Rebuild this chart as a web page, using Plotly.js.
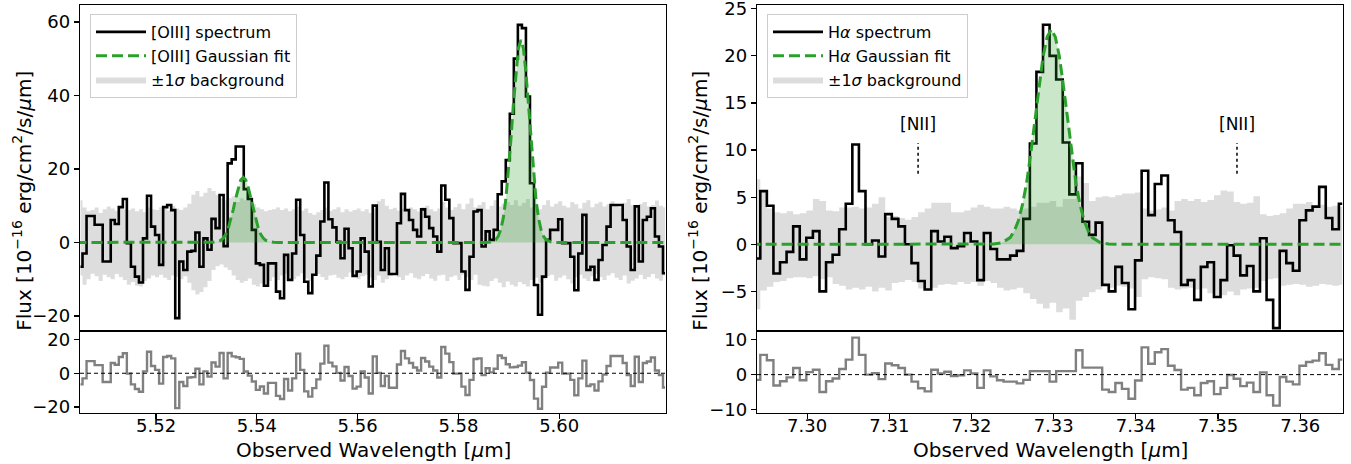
<!DOCTYPE html>
<html>
<head>
<meta charset="utf-8">
<script src="https://cdn.plot.ly/plotly-3.0.1.min.js"></script>
<style>html,body{margin:0;padding:0;background:#fff;}#chart{width:1351px;height:464px;}</style>
</head>
<body>
<div id="chart"></div>
<script>
// ---------------- [OIII] panel data ----------------
const lamL = [
5.5050,5.5058,5.5066,5.5074,5.5082,5.5090,5.5098,5.5106,5.5114,5.5122,
5.5130,5.5138,5.5146,5.5154,5.5162,5.5170,5.5178,5.5186,5.5194,5.5202,
5.5210,5.5218,5.5226,5.5234,5.5242,5.5250,5.5258,5.5266,5.5274,5.5282,
5.5290,5.5298,5.5306,5.5314,5.5322,5.5330,5.5338,5.5346,5.5354,5.5362,
5.5370,5.5378,5.5386,5.5394,5.5402,5.5410,5.5418,5.5426,5.5434,5.5442,
5.5450,5.5458,5.5466,5.5474,5.5482,5.5490,5.5498,5.5506,5.5514,5.5522,
5.5530,5.5538,5.5546,5.5554,5.5562,5.5570,5.5578,5.5586,5.5594,5.5602,
5.5610,5.5618,5.5626,5.5634,5.5642,5.5650,5.5658,5.5666,5.5674,5.5682,
5.5690,5.5698,5.5706,5.5714,5.5722,5.5730,5.5738,5.5746,5.5754,5.5762,
5.5770,5.5778,5.5786,5.5794,5.5802,5.5810,5.5818,5.5826,5.5834,5.5842,
5.5850,5.5858,5.5866,5.5874,5.5882,5.5890,5.5898,5.5906,5.5914,5.5922,
5.5930,5.5938,5.5946,5.5954,5.5962,5.5970,5.5978,5.5986,5.5994,5.6002,
5.6010,5.6018,5.6026,5.6034,5.6042,5.6050,5.6058,5.6066,5.6074,5.6082,
5.6090,5.6098,5.6106,5.6114,5.6122,5.6130,5.6138,5.6146,5.6154,5.6162,
5.6170,5.6178,5.6186,5.6194,5.6202,5.6210];
const fluxL = [
-6.6,-3.0,7.2,7.2,4.8,4.8,-5.2,-5.2,6.1,5.0,
9.6,11.8,-0.2,-6.6,-9.3,-10.9,1.1,12.7,4.3,2.0,
-6.1,9.6,10.2,8.8,-20.6,-5.2,-7.5,-2.5,-2.3,2.7,
-6.6,1.1,-2.0,6.4,3.9,12.9,-1.0,21.5,22.6,26.1,
26.1,14.5,11.8,3.4,-5.7,-6.1,-11.8,-5.7,-5.7,-13.4,
-15.2,-3.4,-10.2,-3.0,11.6,2.0,-10.7,-13.8,-8.8,-3.6,
5.7,16.3,6.3,4.1,0.2,-4.3,3.7,-1.6,-9.1,-7.9,
1.1,-2.5,-12.0,10.0,0.2,-7.5,-1.6,-8.6,-8.6,5.2,
13.2,8.8,6.1,3.4,1.6,9.0,7.0,3.9,1.6,-2.5,
15.5,11.6,6.6,-0.2,-0.2,-7.9,-12.9,-3.9,8.4,8.8,
-1.1,3.0,0.7,3.4,13.1,16.6,22.4,35.0,50.0,59.2,
58.3,39.7,16.1,-11.6,-19.7,-9.3,0.7,3.4,3.4,6.3,
-0.2,-0.2,-3.9,-13.0,-3.0,7.5,-7.5,-6.6,-10.2,-4.8,
-0.7,4.3,10.2,10.2,10.2,6.1,-1.1,-7.5,9.8,-5.2,
6.1,7.0,9.3,1.6,-1.1,-8.4];
const bandHiL = [
11.5,9.5,8.5,8.8,9.5,8.0,9.0,9.8,9.2,8.6,9.5,9.0,
8.8,9.2,8.5,9.0,8.2,9.5,9.0,8.8,9.6,9.2,8.6,10.0,
9.2,8.8,9.5,10.5,13.0,14.0,12.5,13.5,14.8,14.0,13.0,12.0,
11.5,12.0,12.5,11.0,12.0,11.5,12.5,10.5,9.5,9.0,8.5,8.8,
9.0,9.5,8.8,9.2,8.5,9.0,9.8,8.6,9.2,8.0,7.5,8.2,
8.8,9.5,8.6,9.0,9.6,8.2,9.0,8.4,8.8,9.2,8.5,9.0,
8.0,9.2,11.2,11.8,10.0,9.0,9.4,8.6,9.2,8.8,9.5,9.0,
8.4,9.6,10.0,9.0,8.5,9.2,11.0,9.5,8.8,9.6,10.5,9.0,
10.5,12.0,9.5,10.2,11.0,9.0,10.0,11.5,9.8,10.5,11.0,10.2,
11.5,10.0,10.8,11.8,9.5,10.5,9.0,10.2,11.5,9.8,10.5,11.2,
10.0,9.5,11.0,10.4,9.2,10.8,11.5,9.6,10.5,11.0,9.8,10.4,
11.2,10.0,9.5,10.8,11.8,10.2,9.6,10.5,11.0,9.8,10.2,11.4,10.0,9.6];
const bandLoL = [
-9.0,-11.5,-10.0,-8.5,-9.2,-10.5,-8.8,-9.5,-10.0,-8.6,-9.4,-10.2,
-11.5,-10.8,-11.8,-12.0,-10.5,-9.8,-9.0,-9.5,-8.8,-9.6,-10.2,-9.0,
-9.4,-10.0,-9.2,-11.0,-13.0,-14.2,-13.5,-12.2,-10.5,-7.5,-6.5,-6.0,
-6.8,-7.5,-9.0,-10.2,-11.0,-10.5,-9.8,-11.5,-12.0,-11.2,-12.0,-10.5,
-9.5,-10.2,-9.0,-8.5,-9.6,-10.0,-9.2,-8.4,-9.8,-10.5,-9.0,-8.6,
-9.4,-10.2,-9.0,-8.8,-9.6,-10.0,-9.4,-8.2,-9.0,-10.0,-9.2,-8.8,
-9.6,-10.2,-9.0,-11.0,-10.0,-9.2,-8.8,-9.5,-10.2,-9.0,-8.4,-9.6,
-10.0,-9.2,-8.6,-9.8,-10.4,-9.0,-8.8,-10.5,-9.4,-9.0,-10.2,-8.8,
-9.5,-10.2,-8.8,-11.5,-11.8,-12.0,-10.5,-9.8,-11.0,-12.2,-10.6,-11.5,
-12.0,-10.8,-11.4,-12.0,-10.2,-9.6,-11.0,-10.0,-9.2,-8.8,-10.4,-9.6,
-9.0,-10.0,-11.2,-9.5,-8.8,-9.8,-10.5,-9.2,-8.6,-9.4,-10.2,-9.0,
-8.4,-9.6,-10.2,-9.0,-11.2,-10.4,-9.8,-8.8,-10.0,-9.4,-8.6,-9.8,-10.4,-9.0];
const resL = [
-6.6,-3.0,7.2,7.2,4.8,4.8,-5.2,-5.2,6.1,5.0,
9.6,11.8,-0.2,-6.6,-9.3,-10.9,1.1,12.7,4.3,2.0,
-6.1,9.6,10.2,8.8,-20.6,-5.2,-7.5,-2.5,-2.3,2.7,
-6.6,1.1,-2.0,6.4,3.9,12.0,-3.0,12.0,10.0,9.5,
8.5,1.0,-1.4,-4.9,-9.8,-7.8,-12.0,-5.7,-5.7,-13.4,
-15.2,-3.4,-10.2,-3.0,11.6,2.0,-10.7,-13.8,-8.8,-3.6,
5.7,16.3,6.3,4.1,0.2,-4.3,3.7,-1.6,-9.1,-7.9,
1.1,-2.5,-12.0,10.0,0.2,-7.5,-1.6,-8.6,-8.6,5.2,
13.2,8.8,6.1,3.4,1.6,9.0,7.0,3.9,1.6,-2.5,
15.5,11.6,6.6,-0.2,-0.2,-7.9,-12.9,-3.9,8.4,8.8,
-1.1,3.0,0.5,2.7,10.5,9.0,5.3,3.5,3.7,4.5,
6.5,0.4,-4.0,-15.0,-21.0,-8.0,0.3,3.4,3.4,6.3,
-0.2,-0.2,-3.9,-13.0,-3.0,7.5,-7.5,-6.6,-10.2,-4.8,
-0.7,4.3,10.2,10.2,10.2,6.1,-1.1,-7.5,9.8,-5.2,
6.1,7.0,9.3,1.6,-1.1,-8.4];
const fitLamL = [5.5040,5.5303,5.5313,5.5323,5.5328,5.5333,5.5338,5.5343,5.5348,5.5353,5.5358,5.5363,5.5368,5.5373,
5.5378,5.5383,5.5388,5.5393,5.5398,5.5403,5.5408,5.5413,5.5418,5.5423,5.5433,5.5443,
5.5854,5.5864,5.5874,5.5879,5.5884,5.5889,5.5894,5.5899,5.5904,5.5909,5.5914,5.5919,5.5924,
5.5929,5.5934,5.5939,5.5944,5.5949,5.5954,5.5959,5.5964,5.5969,5.5974,5.5984,5.5994,5.6220];
const fitL = [0,0,0.04,0.23,0.53,1.11,2.12,3.73,6.0,8.86,12.0,14.9,17.0,17.7,
17.0,14.9,12.0,8.86,6.0,3.73,2.12,1.11,0.53,0.23,0.04,0,
0,0.11,0.73,1.66,3.46,6.6,11.6,18.7,27.6,37.4,46.3,52.8,55.1,
52.8,46.3,37.4,27.6,18.7,11.6,6.6,3.46,1.66,0.73,0.11,0,0];

// ---------------- H-alpha panel data ----------------
const lamR = [
7.2939,7.2947,7.2955,7.2963,7.2971,7.2979,7.2987,7.2995,7.3003,7.3011,
7.3019,7.3027,7.3035,7.3043,7.3051,7.3059,7.3067,7.3075,7.3083,7.3091,
7.3099,7.3107,7.3115,7.3123,7.3131,7.3139,7.3147,7.3155,7.3163,7.3171,
7.3179,7.3187,7.3195,7.3203,7.3211,7.3219,7.3227,7.3235,7.3243,7.3251,
7.3259,7.3267,7.3275,7.3283,7.3291,7.3299,7.3307,7.3315,7.3323,7.3331,
7.3339,7.3347,7.3355,7.3363,7.3371,7.3379,7.3387,7.3395,7.3403,7.3411,
7.3419,7.3427,7.3435,7.3443,7.3451,7.3459,7.3467,7.3475,7.3483,7.3491,
7.3499,7.3507,7.3515,7.3523,7.3531,7.3539,7.3547,7.3555,7.3563,7.3571,
7.3579,7.3587,7.3595,7.3603,7.3611,7.3619,7.3627,7.3635,7.3643,7.3651];
const fluxR = [
-1.5,5.65,4.1,-3.1,-1.9,-0.8,1.9,-1.6,0.7,1.4,
-5.0,-1.9,-1.1,1.6,4.3,10.6,5.65,0.0,0.4,-1.3,
3.2,2.7,1.9,0.0,-2.0,-3.9,-4.8,1.4,0.3,0.8,
-0.4,-0.2,1.2,0.3,-3.8,1.2,-0.5,-1.6,-1.6,-1.2,
-0.7,2.7,10.7,18.3,23.3,20.0,17.5,10.8,5.3,8.6,
2.4,1.0,2.3,-4.3,-5.0,-2.4,-4.1,-6.9,-1.7,7.8,
3.1,6.4,7.3,2.55,1.3,-4.3,-3.8,-5.9,-2.4,-1.9,
-5.6,-3.8,-0.1,-1.2,-3.3,-2.3,-5.0,0.65,-5.9,-8.9,
-0.7,-2.0,-2.8,2.55,3.6,4.0,6.1,2.8,1.6,4.3];
const bandHiR = [
6.9,5.6,3.8,3.4,3.3,3.5,3.2,3.3,3.6,4.8,
4.6,3.6,3.5,3.9,3.9,4.0,3.8,3.9,4.3,5.0,
2.9,3.0,2.8,2.6,2.9,3.4,3.8,4.4,4.4,4.4,
3.4,3.4,3.6,3.9,4.2,4.0,3.8,3.8,4.0,3.8,
3.6,3.8,4.0,4.4,4.4,4.6,4.0,4.8,4.8,7.2,
6.5,4.6,5.0,5.1,5.0,5.2,5.4,5.4,5.5,3.8,
3.6,3.7,3.9,3.6,4.6,4.8,4.6,4.8,4.5,4.7,
5.2,5.7,5.6,4.5,4.3,4.4,5.1,3.2,3.0,3.1,
3.3,3.8,4.3,4.3,4.5,4.1,4.2,4.0,4.1,4.0];
const bandLoR = [
-6.9,-4.9,-4.5,-4.0,-3.9,-3.6,-3.5,-3.5,-3.6,-3.4,
-3.7,-3.5,-4.2,-4.4,-4.8,-4.6,-4.8,-4.5,-5.0,-4.6,
-4.9,-4.1,-4.0,-3.8,-4.0,-4.7,-4.8,-4.6,-4.3,-4.2,
-4.3,-4.0,-4.2,-4.0,-4.4,-3.9,-4.1,-4.6,-4.9,-4.8,
-4.6,-5.2,-5.8,-6.3,-6.8,-6.2,-7.2,-6.8,-8.0,-6.0,
-5.6,-5.1,-4.8,-4.4,-4.6,-4.4,-4.5,-4.7,-5.6,-3.7,
-3.5,-3.6,-3.7,-4.6,-4.8,-4.7,-4.6,-4.8,-4.7,-5.2,
-5.6,-5.4,-5.0,-5.4,-4.8,-4.7,-4.6,-3.9,-3.7,-3.6,
-4.4,-4.3,-4.2,-4.3,-4.5,-4.4,-4.2,-4.3,-4.4,-4.3];
const resR = [
-1.5,5.65,4.1,-3.1,-1.9,-0.8,1.9,-1.6,0.7,1.4,
-5.0,-1.9,-1.1,1.6,4.3,10.6,5.65,0.0,0.4,-1.3,
3.2,2.7,1.9,0.0,-2.0,-3.9,-4.8,1.4,0.3,0.8,
-0.4,-0.2,1.2,0.3,-3.8,1.2,-0.5,-1.6,-2.0,-2.0,
-2.5,-1.5,1.0,1.0,1.0,-2.0,1.0,1.0,1.0,7.0,
2.0,2.0,2.0,-4.3,-5.0,-2.4,-4.1,-6.9,-1.7,7.8,
3.1,6.4,7.3,2.55,1.3,-4.3,-3.8,-5.9,-2.4,-1.9,
-5.6,-3.8,-0.1,-1.2,-3.3,-2.3,-5.0,0.65,-5.9,-8.9,
-0.7,-2.0,-2.8,2.55,3.6,4.0,6.1,2.8,1.6,4.3];
const fitLamR = [7.2930,7.3217,7.3227,7.3237,7.3247,7.3252,7.3257,7.3262,7.3267,7.3272,7.3277,7.3282,7.3287,7.3292,7.3297,
7.3302,7.3307,7.3312,7.3317,7.3322,7.3327,7.3332,7.3337,7.3342,7.3347,7.3357,7.3367,7.3377,7.3660];
const fitR = [0,0,0.03,0.16,0.71,1.4,2.5,4.2,6.5,9.6,13.1,16.7,19.9,22.0,22.8,
22.0,19.9,16.7,13.1,9.6,6.5,4.2,2.5,1.4,0.71,0.16,0.03,0,0];
const niiLam = [7.3135, 7.3523];
const niiLineY = [7.5, 10.75];
const niiTextY = 12.8;

// ---------------- axes ticks ----------------
const xTicksL = [5.52, 5.54, 5.56, 5.58, 5.60];
const xTicksR = [7.30, 7.31, 7.32, 7.33, 7.34, 7.35, 7.36];
const yTicksL = [-20, 0, 20, 40, 60];
const yTicksR = [-5, 0, 5, 10, 15, 20, 25];
const yTicksResL = [-20, 0, 20];
const yTicksResR = [-10, 0, 10];

const GREEN = '#2ca02c';
const BAND = '#dddddd';
const GFILL = 'rgba(44,160,44,0.25)';

function panelTraces(lam, flux, lo, hi, fitLam, fit, res, xa, ya, xr, yr, lineName, leg) {
  return [
    {x: lam, y: lo, xaxis: xa, yaxis: ya, type: 'scatter', mode: 'lines',
     line: {shape: 'hvh', width: 0, color: BAND}, showlegend: false, hoverinfo: 'skip', legendgroup: 'b'},
    {x: lam, y: hi, xaxis: xa, yaxis: ya, type: 'scatter', mode: 'lines', fill: 'tonexty',
     fillcolor: BAND, line: {shape: 'hvh', width: 0, color: BAND}, legendgroup: 'b',
     name: '±1<i>σ</i> background', legend: leg, legendrank: 3, hoverinfo: 'skip'},
    {x: lam, y: flux, xaxis: xa, yaxis: ya, type: 'scatter', mode: 'lines',
     line: {shape: 'hvh', width: 2.6, color: '#000000'}, legendgroup: 's',
     name: lineName + ' spectrum', legend: leg, legendrank: 1},
    {x: fitLam, y: fit, xaxis: xa, yaxis: ya, type: 'scatter', mode: 'lines', fill: 'tozeroy',
     fillcolor: GFILL, line: {width: 0, color: GFILL}, showlegend: false, hoverinfo: 'skip', legendgroup: 'f'},
    {x: fitLam, y: fit, xaxis: xa, yaxis: ya, type: 'scatter', mode: 'lines',
     line: {width: 3, color: GREEN, dash: '11px,5px'}, legendgroup: 'f',
     name: lineName + ' Gaussian fit', legend: leg, legendrank: 2},
    {x: lam, y: res, xaxis: xr, yaxis: yr, type: 'scatter', mode: 'lines',
     line: {shape: 'hvh', width: 2.4, color: '#808080'}, showlegend: false}
  ];
}

const traces = [].concat(
  panelTraces(lamL, fluxL, bandLoL, bandHiL, fitLamL, fitL, resL, 'x', 'y', 'x2', 'y2', '[OIII]', 'legend'),
  panelTraces(lamR, fluxR, bandLoR, bandHiR, fitLamR, fitR, resR, 'x3', 'y3', 'x4', 'y4', 'H<i>α</i>', 'legend2')
);
niiLam.forEach(l => traces.push({x: [l, l], y: niiLineY, xaxis: 'x3', yaxis: 'y3', type: 'scatter',
  mode: 'lines', line: {color: '#000', width: 1.5, dash: 'dot'}, showlegend: false, hoverinfo: 'skip'}));

const W = 1351;
const domL = [80 / W, 666 / W];
const domR = [757 / W, 1343 / W];
const splitY = 0.201;
const tickFont = {family: 'DejaVu Sans', size: 18, color: '#000'};

function xax(dom, range, anchor, tickvals, showLabels) {
  return {domain: dom, range: range, anchor: anchor, showgrid: false, zeroline: false,
    showline: true, mirror: true, linecolor: '#000', linewidth: 1.2,
    tickvals: tickvals, tickformat: '.2f', tickfont: tickFont,
    ticks: showLabels ? 'outside' : '', ticklen: 5, tickwidth: 1.2, tickcolor: '#000',
    ticklabelstandoff: -9, ticklabeloverflow: 'allow',
    showticklabels: showLabels};
}
function yax(dom, range, anchor, tickvals) {
  return {domain: dom, range: range, anchor: anchor, showgrid: false, zeroline: false,
    showline: true, mirror: true, linecolor: '#000', linewidth: 1.2, ticklabeloverflow: 'allow',
    tickvals: tickvals, tickfont: tickFont, ticks: 'outside', ticklen: 5, tickwidth: 1.2, tickcolor: '#000'};
}

const legendStyle = {font: {family: 'DejaVu Sans', size: 16, color: '#000'}, bgcolor: 'rgba(255,255,255,0.85)',
  bordercolor: '#cccccc', borderwidth: 1, xanchor: 'left', yanchor: 'top', tracegroupgap: 5,
  itemwidth: 50, traceorder: 'normal'};

const fluxTitle = 'Flux [10<sup>−16</sup> erg/cm<sup>2</sup>/s/<i>μ</i>m]';
const xTitle = 'Observed Wavelength [<i>μ</i>m]';
const titleFont = {family: 'DejaVu Sans', size: 20, color: '#000'};

const layout = {
  width: 1351, height: 464,
  margin: {l: 0, r: 0, t: 5, b: 51},
  paper_bgcolor: '#fff', plot_bgcolor: '#fff',
  font: {family: 'DejaVu Sans', color: '#000'},
  xaxis: xax(domL, [5.5049, 5.6212], 'y', xTicksL, false),
  yaxis: yax([splitY, 1], [-24.1, 64.6], 'x', yTicksL),
  xaxis2: xax(domL, [5.5049, 5.6212], 'y2', xTicksL, true),
  yaxis2: yax([0, splitY], [-23.5, 25], 'x2', yTicksResL),
  xaxis3: xax(domR, [7.2939, 7.3652], 'y3', xTicksR, false),
  yaxis3: yax([splitY, 1], [-9.2, 25.4], 'x3', yTicksR),
  xaxis4: xax(domR, [7.2939, 7.3652], 'y4', xTicksR, true),
  yaxis4: yax([0, splitY], [-11, 12.5], 'x4', yTicksResR),
  legend: Object.assign({x: 90 / W, y: 0.978}, legendStyle),
  legend2: Object.assign({x: 767 / W, y: 0.978}, legendStyle),
  shapes: [
    {type: 'line', xref: 'x2 domain', yref: 'y2', x0: 0, x1: 1, y0: 0, y1: 0, line: {color: '#000', width: 1, dash: '4px,3px'}},
    {type: 'line', xref: 'x4 domain', yref: 'y4', x0: 0, x1: 1, y0: 0, y1: 0, line: {color: '#000', width: 1, dash: '4px,3px'}}
  ],
  annotations: [
    {text: fluxTitle, xref: 'paper', yref: 'paper', x: 22 / W, y: 0.52, textangle: -90, showarrow: false,
     xanchor: 'center', yanchor: 'middle', font: titleFont},
    {text: fluxTitle, xref: 'paper', yref: 'paper', x: 698 / W, y: 0.52, textangle: -90, showarrow: false,
     xanchor: 'center', yanchor: 'middle', font: titleFont},
    {text: xTitle, xref: 'x2 domain', yref: 'paper', x: 0.5, y: -0.0907, showarrow: false,
     xanchor: 'center', yanchor: 'middle', font: titleFont},
    {text: xTitle, xref: 'x4 domain', yref: 'paper', x: 0.5, y: -0.0907, showarrow: false,
     xanchor: 'center', yanchor: 'middle', font: titleFont}
  ].concat(niiLam.map(l => ({text: '[NII]', xref: 'x3', yref: 'y3', x: l, y: niiTextY, showarrow: false,
     xanchor: 'center', yanchor: 'middle', font: {family: 'DejaVu Sans', size: 17, color: '#000'}})))
};

Plotly.newPlot('chart', traces, layout, {staticPlot: true, displayModeBar: false});
</script>
</body>
</html>
